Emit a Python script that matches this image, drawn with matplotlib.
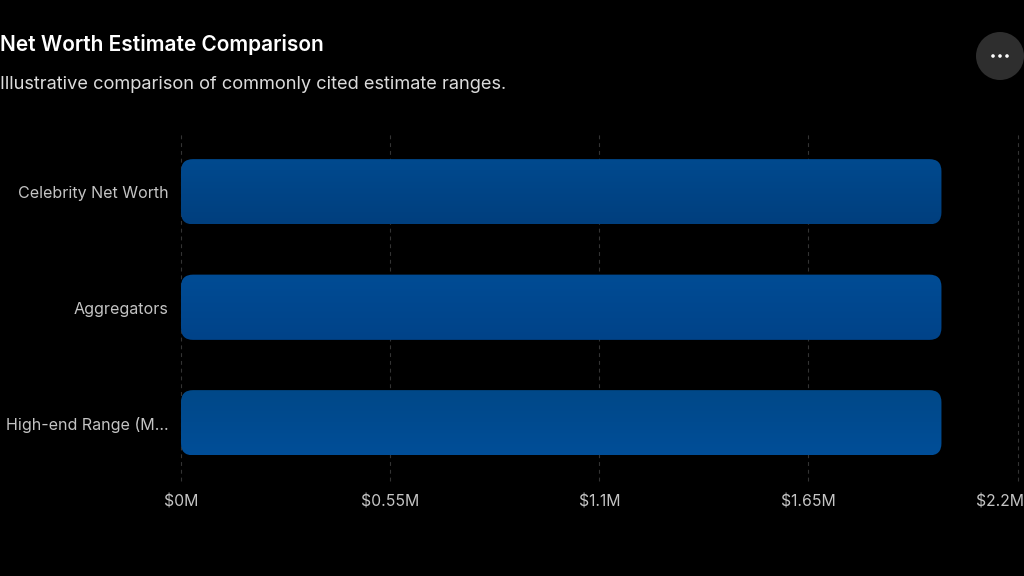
#!/usr/bin/env python3
"""
Horizontal bar chart of net worth estimates, dark theme with rounded gradient bars
"""

import numpy as np
import matplotlib
matplotlib.use("Agg")
import matplotlib.pyplot as plt
from matplotlib.colors import LinearSegmentedColormap
from matplotlib.patches import Circle, FancyBboxPatch
from matplotlib.transforms import IdentityTransform, ScaledTranslation

categories = ["Celebrity Net Worth", "Aggregators", "High-end Range (M…"]
values = [2.0, 2.0, 2.0]
tick_values = [0, 0.55, 1.1, 1.65, 2.2]
tick_labels = ["$0M", "$0.55M", "$1.1M", "$1.65M", "$2.2M"]

# top and bottom colour of each bar
bar_colors = [("#004a8f", "#003f7e"), ("#004c95", "#004389"), ("#004888", "#004e98")]

W, H = 1024, 576
plt.rcParams["font.family"] = ["Inter", "DejaVu Sans"]

fig = plt.figure(figsize=(W / 100, H / 100), dpi=100, facecolor="black")
ax = fig.add_axes([181 / W, 1 - 480.5 / H, (1017.5 - 181) / W, 346.5 / H], facecolor="black")

y = np.arange(len(categories))
ax.set_xlim(0, 2.2)
ax.set_ylim(len(categories) - 0.5, -0.5)

# grid lines
for t in tick_values:
    ax.axvline(t, color="#333333", linewidth=0.8, linestyle=(0, (3.5, 3.5)), zorder=1, clip_on=False)

bars = ax.barh(y, values, height=0.565, color="none", zorder=2)

# swap each bar for a rounded box in pixel space and fill it with a vertical gradient
radius = 12
for bar, (c_top, c_bottom) in zip(bars, bar_colors):
    box = bar.get_window_extent(fig.canvas.get_renderer())
    rounded = FancyBboxPatch((box.x0 + radius, box.y0 + radius), box.width - 2 * radius,
                             box.height - 2 * radius,
                             boxstyle=f"round,pad={radius},rounding_size={radius}",
                             transform=IdentityTransform(), facecolor="none",
                             edgecolor="none", zorder=3)
    ax.add_patch(rounded)
    cmap = LinearSegmentedColormap.from_list("bar", [c_top, c_bottom])
    grad = np.linspace(0, 1, 128).reshape(-1, 1)
    x1 = bar.get_width()
    y0, y1 = bar.get_y(), bar.get_y() + bar.get_height()
    im = ax.imshow(grad, cmap=cmap, aspect="auto", extent=(0, x1, y1, y0), zorder=3)
    im.set_clip_path(rounded)

ax.set_xlim(0, 2.2)
ax.set_ylim(len(categories) - 0.5, -0.5)

for s in ax.spines.values():
    s.set_visible(False)

ax.set_yticks(y, categories)
ax.set_xticks(tick_values, tick_labels)
ax.tick_params(axis="y", length=0, pad=9, labelsize=11.55, labelcolor="#c4c4c4")
ax.tick_params(axis="x", length=0, pad=10.3, labelsize=11.35, labelcolor="#c4c4c4")

# nudge the row labels down a touch
for label in ax.get_yticklabels():
    label.set_transform(label.get_transform() + ScaledTranslation(0, -0.6 / 100, fig.dpi_scale_trans))

# last x label stays inside the figure, flush with the right edge
last = ax.get_xticklabels()[-1]
last.set_ha("right")
last.set_transform(last.get_transform() + ScaledTranslation(6.5 / 100, 0, fig.dpi_scale_trans))

fig.text(0 / W, 1 - 44.8 / H, "Net Worth Estimate Comparison", color="white", fontsize=15.05,
         fontweight="semibold", va="center", ha="left")
fig.text(0 / W, 1 - 84.3 / H, "Illustrative comparison of commonly cited estimate ranges.",
         color="#dcdcdc", fontsize=13.13, va="center", ha="left")

# menu button, top right
fig.add_artist(Circle((1000, H - 56), 24, transform=IdentityTransform(), facecolor="#2e2e2e",
                      edgecolor="none"))
for dx in (-7, 0, 7):
    fig.add_artist(Circle((1000 + dx, H - 56), 1.8, transform=IdentityTransform(),
                          facecolor="white", edgecolor="none"))

fig.savefig("out.png", dpi=100, facecolor="black")
